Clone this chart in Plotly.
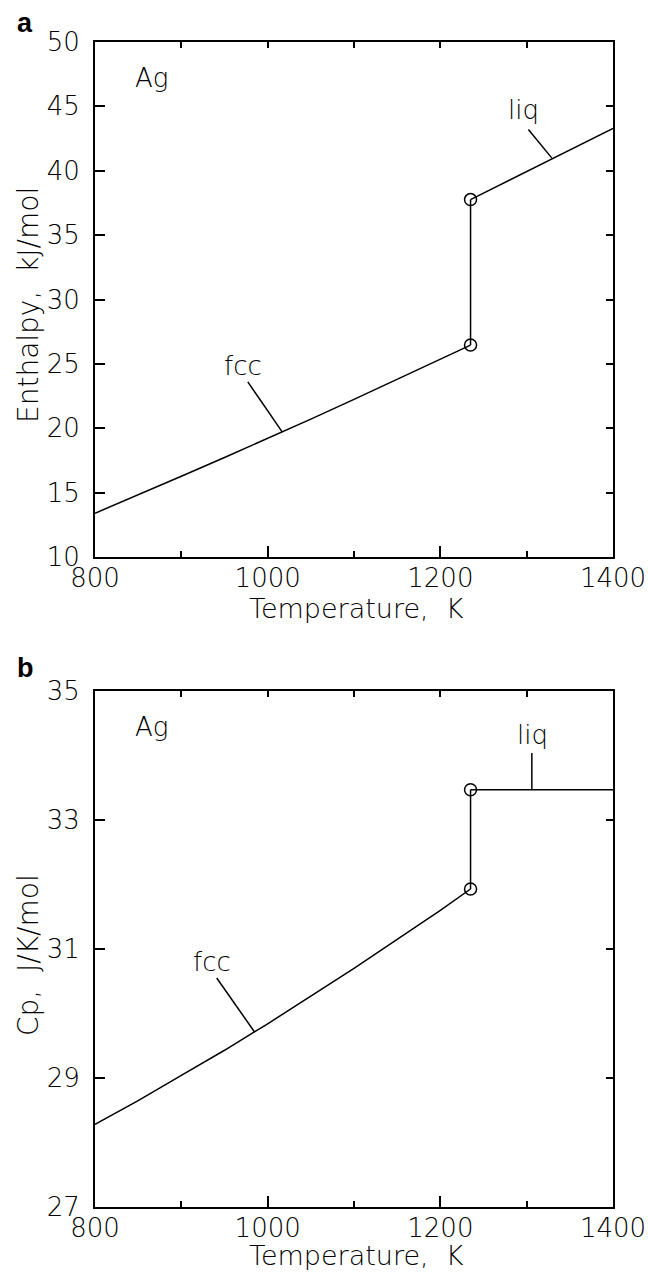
import plotly.graph_objects as go

# ---- data ----
T_fcc = [800, 850, 900, 950, 1000, 1050, 1100, 1150, 1200, 1235]
H_fcc = [13.40, 14.82, 16.27, 17.73, 19.21, 20.71, 22.24, 23.78, 25.35, 26.46]
Cp_fcc = [28.28, 28.65, 29.04, 29.43, 29.84, 30.27, 30.70, 31.15, 31.60, 31.93]
T_liq = [1235, 1400]
H_liq = [37.76, 43.28]
Cp_liq = [33.47, 33.47]
T_melt = [1235, 1235]
H_melt = [26.46, 37.76]
Cp_melt = [31.93, 33.47]

# label leaders (text anchor -> curve)
a_fcc_leader_T = [977, 1017]
a_fcc_leader_H = [23.6, 19.7]
a_liq_leader_T = [1302, 1329]
a_liq_leader_H = [43.2, 41.0]
b_fcc_leader_T = [941, 985]
b_fcc_leader_Cp = [30.55, 29.71]
b_liq_leader_T = [1306, 1306]
b_liq_leader_Cp = [34.04, 33.47]

x_ticks = [800, 1000, 1200, 1400]
ya_ticks = [10, 15, 20, 25, 30, 35, 40, 45, 50]
yb_ticks = [27, 29, 31, 33, 35]

W, Hh = 648, 1274
xdom = [95 / W, 613 / W]
ya_dom = [1 - 557 / Hh, 1 - 42 / Hh]
yb_dom = [1 - 1207 / Hh, 1 - 691 / Hh]

FONT = dict(family="DejaVu Sans", size=26, color="black", weight=300)
LW = 1.5

fig = go.Figure()

def line(x, y, xa, ya, mode="lines", **kw):
    fig.add_trace(go.Scatter(x=x, y=y, xaxis=xa, yaxis=ya, mode=mode,
                             line=dict(color="black", width=LW),
                             showlegend=False, hoverinfo="skip", **kw))

# panel a
line(T_fcc, H_fcc, "x", "y")
line(T_melt, H_melt, "x", "y")
line(T_liq, H_liq, "x", "y")
line(T_melt, H_melt, "x", "y", mode="markers",
     marker=dict(symbol="circle-open", size=12, color="black", line=dict(width=1.5)))
line(a_fcc_leader_T, a_fcc_leader_H, "x", "y")
line(a_liq_leader_T, a_liq_leader_H, "x", "y")
# panel b
line(T_fcc, Cp_fcc, "x2", "y2")
line(T_melt, Cp_melt, "x2", "y2")
line(T_liq, Cp_liq, "x2", "y2")
line(T_melt, Cp_melt, "x2", "y2", mode="markers",
     marker=dict(symbol="circle-open", size=12, color="black", line=dict(width=1.5)))
line(b_fcc_leader_T, b_fcc_leader_Cp, "x2", "y2")
line(b_liq_leader_T, b_liq_leader_Cp, "x2", "y2")
# dummy traces for overlay (top/right) axes
for xa, ya in [("x3", "y3"), ("x4", "y4")]:
    fig.add_trace(go.Scatter(x=[None], y=[None], xaxis=xa, yaxis=ya,
                             showlegend=False, hoverinfo="skip"))

axcommon = dict(showline=True, linecolor="black", linewidth=2, ticks="inside",
                tickcolor="black", tickwidth=1.5, showgrid=False, zeroline=False,
                tickfont=FONT, fixedrange=True, automargin=False)

minor = dict(dtick=100, tick0=800, ticklen=6, ticks="inside", tickcolor="black",
             tickwidth=1.5, showgrid=False)

fig.update_layout(
    template="none",
    xaxis=dict(axcommon, domain=xdom, anchor="y", range=[800, 1400],
               tickvals=x_ticks, ticklen=11, ticklabelstandoff=-3, minor=minor),
    yaxis=dict(axcommon, domain=ya_dom, anchor="x", range=[10, 50],
               tickvals=ya_ticks, ticklen=10, ticklabelstandoff=8),
    xaxis2=dict(axcommon, domain=xdom, anchor="y2", range=[800, 1400],
                tickvals=x_ticks, ticklen=11, ticklabelstandoff=-3, minor=minor),
    yaxis2=dict(axcommon, domain=yb_dom, anchor="x2", range=[27, 35],
                tickvals=yb_ticks, ticklen=10, ticklabelstandoff=8),
    # top / right overlays
    xaxis3=dict(axcommon, domain=xdom, overlaying="x", side="top", anchor="y3",
                range=[800, 1400], tickmode="linear", dtick=100, tick0=800,
                ticklen=6, showticklabels=False),
    yaxis3=dict(axcommon, domain=ya_dom, overlaying="y", side="right", anchor="x3",
                range=[10, 50], tickmode="linear", dtick=5, tick0=10,
                ticklen=7, showticklabels=False),
    xaxis4=dict(axcommon, domain=xdom, overlaying="x2", side="top", anchor="y4",
                range=[800, 1400], tickmode="linear", dtick=100, tick0=800,
                ticklen=6, showticklabels=False),
    yaxis4=dict(axcommon, domain=yb_dom, overlaying="y2", side="right", anchor="x4",
                range=[27, 35], tickmode="linear", dtick=2, tick0=27,
                ticklen=7, showticklabels=False),
)

ann = []
def txt(text, x, y, xref, yref, size=26, **kw):
    ann.append(dict(text=text, x=x, y=y, xref=xref, yref=yref, showarrow=False,
                    xanchor="center", yanchor="middle",
                    font=dict(FONT, size=size), **kw))

# in-plot labels
txt("Ag", 866, 47.2, "x", "y")
txt("fcc", 971, 24.8, "x", "y")
txt("liq", 1296, 44.7, "x", "y")
txt("Ag", 866, 34.44, "x2", "y2")
txt("fcc", 935, 30.80, "x2", "y2")
txt("liq", 1307, 34.32, "x2", "y2")

# axis titles
txt("Temperature,  K", 356 / W, 1 - 608 / Hh, "paper", "paper", size=27)
txt("Temperature,  K", 356 / W, 1 - 1255 / Hh, "paper", "paper", size=27)
txt("Enthalpy,  kJ/mol", 28 / W, 1 - 305 / Hh, "paper", "paper", size=28, textangle=-90)
txt("Cp,  J/K/mol", 28 / W, 1 - 955 / Hh, "paper", "paper", size=28, textangle=-90)

# panel letters
for lab, yp in [("a", 23), ("b", 668)]:
    ann.append(dict(text="<b>" + lab + "</b>", x=25 / W, y=1 - yp / Hh,
                    xref="paper", yref="paper", xanchor="center", yanchor="middle",
                    showarrow=False,
                    font=dict(family="Liberation Sans", size=27, color="black")))

fig.update_layout(annotations=ann, width=W, height=Hh,
                  margin=dict(l=0, r=0, t=0, b=0),
                  paper_bgcolor="white", plot_bgcolor="white", font=FONT)

fig.write_html("out.html", config={"displayModeBar": False})
